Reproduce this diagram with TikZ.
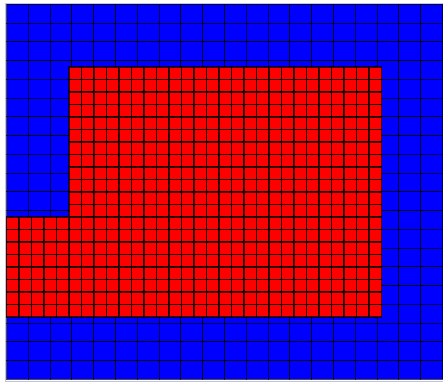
\documentclass[tikz,border=0pt]{standalone}
\definecolor{cblue}{HTML}{0000FF}
\definecolor{cred}{HTML}{FF0000}
\definecolor{cframe}{HTML}{C4C4D8}
\tikzset{
  every picture/.style={line width=1.1pt},
  cell/.style={fill=#1, draw=black, draw opacity=0.7},
  frame/.style={draw=cframe, line width=1pt},
}
\begin{document}
\begin{tikzpicture}[x=1pt, y=-1pt]
  \useasboundingbox (0,0) rectangle (443,383);
  \fill[white] (0,0) rectangle (443,383);
  \draw[frame] (5.5,3.3) rectangle (446,381);
  % coarse mesh
  \foreach \i in {0,...,19}
    \foreach \j in {0,...,19}
      { \path[cell=cblue] (6.5+21.8*\i, 4.3+18.75*\j) rectangle ++(21.8,18.75); }
  % refined mesh
  \foreach \i in {0,...,24}
    \foreach \j in {0,...,19}
      { \path[cell=cred] (69+12.5*\i, 67+12.5*\j) rectangle ++(12.5,12.5); }
  \foreach \i in {0,...,4}
    \foreach \j in {0,...,7}
      { \path[cell=cred] (6.5+12.5*\i, 217+12.5*\j) rectangle ++(12.5,12.5); }
\end{tikzpicture}
\end{document}
